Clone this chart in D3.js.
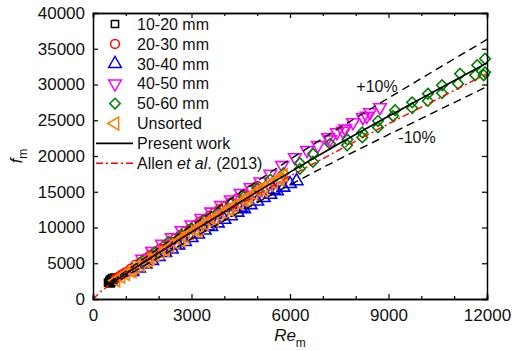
<!DOCTYPE html>
<html>
<head>
<meta charset="utf-8">
<script src="https://cdn.jsdelivr.net/npm/d3@7"></script>
<style>
  body { margin: 0; background: #fff; }
  text { font-family: "Liberation Sans", Arial, sans-serif; fill: #111; }
</style>
</head>
<body>
<div id="chart"></div>
<script>
// data
var xTicks = [0, 3000, 6000, 9000, 12000];
var yTicks = [0, 5000, 10000, 15000, 20000, 25000, 30000, 35000, 40000];

var re1020 = [460, 500, 520, 540, 560, 580, 600, 620, 650];
var f1020  = [2300, 2500, 2700, 2200, 2400, 2900, 2800, 2600, 3000];

var re2030 = [700, 800, 900, 1000, 1150, 1300, 1450, 1600, 1750, 1900, 2050, 2200, 2350, 2500, 2650, 2800, 2950, 3100, 3250, 3400, 3550, 3700, 3850, 4000, 4200, 4400, 4600, 4800, 5000];
var f2030  = [2900, 3200, 3500, 3750, 4250, 4800, 5150, 5700, 6150, 6650, 7050, 7550, 8000, 8450, 8900, 9450, 9800, 10300, 10800, 11150, 11650, 12050, 12550, 12900, 13500, 14100, 14700, 15200, 15800];

var re3040 = [1200, 1400, 1600, 1800, 2000, 2200, 2400, 2600, 2800, 3000, 3200, 3400, 3600, 3800, 4000, 4200, 4400, 4600, 4800, 5000, 5200, 5400, 5600, 5800, 6000, 6200, 2500, 3500, 4500, 5500];
var f3040  = [3800, 4300, 4850, 5350, 5900, 6450, 6950, 7500, 8000, 8550, 9050, 9600, 10100, 10600, 11100, 11600, 12100, 12600, 13150, 13650, 14150, 14600, 15100, 15600, 16100, 16500, 7600, 10200, 12800, 15300];

var re4050 = [1500, 1800, 2100, 2400, 2700, 3000, 3300, 3600, 3900, 4200, 4500, 4800, 5100, 5400, 5760, 6150, 6520, 6850, 7160, 7430, 7680, 7920, 8220, 8440, 8740, 7220, 7610, 8340];
var f4050  = [5600, 6700, 7700, 8600, 9600, 10400, 11300, 12200, 13100, 13900, 14800, 15600, 16400, 17500, 18700, 19800, 20800, 21500, 22600, 23300, 23800, 24700, 25400, 26100, 26800, 22300, 23500, 25600];

var re5060 = [1500, 1900, 2300, 2700, 3000, 3400, 3800, 4200, 4600, 5000, 5400, 5800, 6300, 6300, 6700, 6700, 7220, 7740, 7750, 8200, 8200, 8680, 8680, 9200, 9140, 9720, 9720, 10200, 10200, 10630, 10630, 11120, 11180, 11640, 11700, 11940, 11940, 11900];
var f5060  = [5300, 6500, 8000, 9000, 9900, 11000, 12100, 13300, 14300, 15500, 16700, 17600, 19000, 18200, 20300, 19200, 21700, 21500, 22300, 23300, 22600, 24000, 24900, 26400, 25600, 27500, 26700, 28700, 27700, 29900, 28800, 30100, 31500, 31300, 32700, 33600, 31700, 31300];

var reUns = [700, 850, 1000, 1150, 1300, 1450, 1600, 1750, 1900, 2050, 2200, 2350, 2500, 2650, 2800, 2950, 3100, 3250, 3400, 3550, 3700, 3850, 4000, 4150, 4300, 4450, 4600, 4750, 4900, 5050, 5200, 5350, 5500, 5650, 5800, 1200, 1700, 2200, 2700, 3200, 3700, 4200, 4700, 5200, 5700];
var fUns  = [2600, 3100, 3500, 3950, 4450, 4800, 5250, 5750, 6150, 6550, 7000, 7450, 7850, 8300, 8700, 9200, 9600, 10000, 10500, 10900, 11300, 11700, 12100, 12600, 13000, 13400, 13800, 14300, 14700, 15100, 15600, 16000, 16300, 16800, 17300, 3900, 5400, 6800, 8200, 9600, 11000, 12400, 13800, 15200, 16700];

// fitted curves as drawn
var rePresent = [500, 1500, 3000, 4500, 6000, 7500, 9000, 10500, 12000];
var fPresent  = [2050, 5000, 9350, 13600, 17750, 21750, 25550, 29300, 33000];
var reAllen = [0, 250, 500, 1500, 3000, 6000, 9000, 12000];
var fAllen  = [0, 1100, 1970, 5140, 9400, 17200, 24500, 31500];

var width = 512, height = 351;
var margin = {top: 13, right: 25, bottom: 52, left: 93};
var w = width - margin.left - margin.right;
var h = height - margin.top - margin.bottom;

var svg = d3.select("#chart").append("svg")
  .attr("width", width)
  .attr("height", height);
var g = svg.append("g")
  .attr("transform", "translate(" + margin.left + "," + margin.top + ")");

var x = d3.scaleLinear().domain([0, 12000]).range([0, w]);
var y = d3.scaleLinear().domain([0, 40000]).range([h, 0]);

function zip(a, b) { return a.map(function(v, i) { return [v, b[i]]; }); }

// markers
var sym = {
  square: d3.symbol().type(d3.symbolSquare).size(52),
  circle: d3.symbol().type(d3.symbolCircle).size(62),
  up: d3.symbol().type(d3.symbolTriangle).size(70),
  diamond: d3.symbol().type(d3.symbolSquare).size(56)
};

var series = [
  {name: "10-20 mm", re: re1020, f: f1020, color: "#000000", shape: "square", rot: 0},
  {name: "20-30 mm", re: re2030, f: f2030, color: "#ff0000", shape: "circle", rot: 0},
  {name: "30-40 mm", re: re3040, f: f3040, color: "#0000ff", shape: "up", rot: 0},
  {name: "40-50 mm", re: re4050, f: f4050, color: "#ff00ff", shape: "up", rot: 180},
  {name: "50-60 mm", re: re5060, f: f5060, color: "#008000", shape: "diamond", rot: 45},
  {name: "Unsorted", re: reUns, f: fUns, color: "#ff8000", shape: "up", rot: -90}
];

series.forEach(function(s) {
  g.append("g").selectAll("path")
    .data(zip(s.re, s.f))
    .enter().append("path")
    .attr("d", sym[s.shape])
    .attr("transform", function(d) {
      return "translate(" + x(d[0]) + "," + y(d[1]) + ") rotate(" + s.rot + ")";
    })
    .attr("fill", "none")
    .attr("stroke", s.color)
    .attr("stroke-width", 1.6);
});

// lines
var line = d3.line().x(function(d) { return x(d[0]); }).y(function(d) { return y(d[1]); });

g.append("path")
  .datum(zip(reAllen, fAllen))
  .attr("d", line)
  .attr("fill", "none").attr("stroke", "#ff0000").attr("stroke-width", 1.4)
  .attr("stroke-dasharray", "7,3,2,3");

[1.1, 0.9].forEach(function(k) {
  g.append("path")
    .datum(zip(rePresent, fPresent.map(function(v) { return v * k; })))
    .attr("d", line)
    .attr("fill", "none").attr("stroke", "#000").attr("stroke-width", 1.4)
    .attr("stroke-dasharray", "8,5");
});

g.append("path")
  .datum(zip(rePresent, fPresent))
  .attr("d", line)
  .attr("fill", "none").attr("stroke", "#000").attr("stroke-width", 1.6);

// axes
var xMinor = d3.range(0, 12001, 1000).filter(function(v) { return v % 3000; });

g.append("g").attr("transform", "translate(0," + h + ")")
  .call(d3.axisBottom(x).tickValues(xTicks).tickSize(-5).tickPadding(10).tickFormat(d3.format("d")));
g.append("g").attr("transform", "translate(0," + h + ")")
  .call(d3.axisBottom(x).tickValues(xMinor).tickSize(-3).tickFormat(""));
g.append("g")
  .call(d3.axisTop(x).tickValues(xTicks).tickSize(-5).tickFormat(""));
g.append("g")
  .call(d3.axisTop(x).tickValues(xMinor).tickSize(-3).tickFormat(""));
g.append("g")
  .call(d3.axisLeft(y).tickValues(yTicks).tickSize(-5).tickPadding(8).tickFormat(d3.format("d")));
g.append("g").attr("transform", "translate(" + w + ",0)")
  .call(d3.axisRight(y).tickValues(yTicks).tickSize(-5).tickFormat(""));

g.selectAll(".domain").attr("stroke", "#000").attr("stroke-width", 1.5);
g.selectAll(".tick line").attr("stroke", "#000").attr("stroke-width", 1.2);
g.selectAll(".tick text").style("font-size", "17px").style("font-family", "Liberation Sans, Arial, sans-serif").attr("fill", "#111");

// annotations
g.append("text").attr("x", 377 - margin.left).attr("y", 92 - margin.top)
  .attr("text-anchor", "middle").style("font-size", "16px").text("+10%");
g.append("text").attr("x", 417 - margin.left).attr("y", 143 - margin.top)
  .attr("text-anchor", "middle").style("font-size", "16px").text("-10%");

// axis titles
var xt = svg.append("text").attr("x", 290).attr("y", 341)
  .attr("text-anchor", "middle").style("font-size", "17px");
xt.append("tspan").style("font-style", "italic").text("Re");
xt.append("tspan").attr("dy", 6).style("font-size", "12px").text("m");

var yt = svg.append("text").attr("transform", "translate(22,156) rotate(-90)")
  .attr("text-anchor", "middle").style("font-size", "17px");
yt.append("tspan").style("font-style", "italic").text("f");
yt.append("tspan").attr("dy", 5).style("font-size", "12px").text("m");

// legend
var leg = svg.append("g");
series.forEach(function(s, i) {
  var ly = 24 + i * 19.9;
  leg.append("path")
    .attr("d", sym[s.shape])
    .attr("transform", "translate(115," + ly + ") rotate(" + s.rot + ")")
    .attr("fill", "none").attr("stroke", s.color).attr("stroke-width", 1.5);
  leg.append("text").attr("x", 137).attr("y", ly).attr("dy", "0.36em")
    .style("font-size", "16px").text(s.name);
});

var ly6 = 24 + 6 * 19.9, ly7 = 24 + 7 * 19.9;
leg.append("line").attr("x1", 96).attr("x2", 133).attr("y1", ly6).attr("y2", ly6)
  .attr("stroke", "#000").attr("stroke-width", 1.6);
leg.append("text").attr("x", 137).attr("y", ly6).attr("dy", "0.36em")
  .style("font-size", "16px").text("Present work");
leg.append("line").attr("x1", 96).attr("x2", 133).attr("y1", ly7).attr("y2", ly7)
  .attr("stroke", "#ff0000").attr("stroke-width", 1.4).attr("stroke-dasharray", "7,3,2,3");
var at = leg.append("text").attr("x", 137).attr("y", ly7).attr("dy", "0.36em")
  .style("font-size", "16px");
at.append("tspan").text("Allen ");
at.append("tspan").style("font-style", "italic").text("et al");
at.append("tspan").text(". (2013)");
</script>
</body>
</html>
